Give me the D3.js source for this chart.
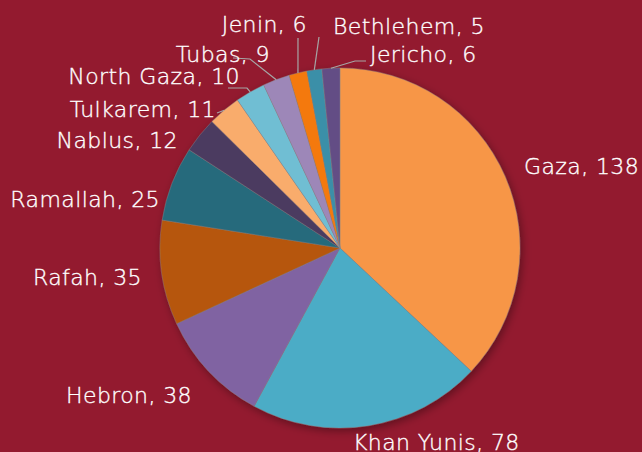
<!DOCTYPE html>
<html>
<head>
<meta charset="utf-8">
<script src="https://cdn.jsdelivr.net/npm/d3@7"></script>
<style>
  html, body { margin: 0; padding: 0; background: #931a2f; }
  svg { display: block; }
  text { font-family: "DejaVu Sans", sans-serif; fill: #fff; }
</style>
</head>
<body>
<div id="chart"></div>
<script>
// ---- data ----
const districts = ['Gaza', 'Khan Yunis', 'Hebron', 'Rafah', 'Ramallah', 'Nablus',
  'Tulkarem', 'North Gaza', 'Tubas', 'Jenin', 'Bethlehem', 'Jericho'];
const counts = [138, 78, 38, 35, 25, 12, 11, 10, 9, 6, 5, 6];
const colors = ['#f79646', '#4bacc6', '#8064a2', '#b65708', '#276a7c', '#4c3a60',
  '#f9ac6c', '#70bed3', '#9d87b8', '#f4790b', '#3a8fa8', '#634e85'];

// label placement (layout, set by hand like in the original)
const labelLayout = [
  { x: 524, y: 174, anchor: 'start' },
  { x: 353, y: 450, anchor: 'start' },
  { x: 192, y: 403, anchor: 'end' },
  { x: 142, y: 285, anchor: 'end' },
  { x: 160, y: 207, anchor: 'end' },
  { x: 178, y: 148, anchor: 'end' },
  { x: 216, y: 117, anchor: 'end', leader: [[217, 113]] },
  { x: 240, y: 84, anchor: 'end', leader: [[247, 88], [228, 88]] },
  { x: 270, y: 62, anchor: 'end', leader: [[250, 59], [233, 58]] },
  { x: 307, y: 32, anchor: 'end', leader: [[298, 38]] },
  { x: 333, y: 34, anchor: 'start', leader: [[319, 37]] },
  { x: 370, y: 62, anchor: 'start', leader: [[355, 61], [366, 61]] }
];

const width = 642, height = 452;
const cx = 340, cy = 248, radius = 180;

const svg = d3.select('#chart').append('svg')
  .attr('width', width).attr('height', height);

const defs = svg.append('defs');
const shadow = defs.append('filter').attr('id', 'shadow')
  .attr('x', '-20%').attr('y', '-20%').attr('width', '140%').attr('height', '140%');
shadow.append('feDropShadow')
  .attr('dx', 2).attr('dy', 3).attr('stdDeviation', 4)
  .attr('flood-color', '#000').attr('flood-opacity', 0.35);

const rows = districts.map((name, i) => ({ name, value: counts[i], color: colors[i], i }));

const pie = d3.pie().value(d => d.value).sort(null);
const arcs = pie(rows);
const arc = d3.arc().innerRadius(0).outerRadius(radius);

const g = svg.append('g').attr('transform', `translate(${cx},${cy})`);

g.append('g').attr('filter', 'url(#shadow)')
  .selectAll('path')
  .data(arcs)
  .join('path')
  .attr('d', arc)
  .attr('fill', d => d.data.color)
  .attr('stroke', '#8a8a8a')
  .attr('stroke-width', 0.4);

// leader lines from slice edge
const edge = d3.arc().innerRadius(radius).outerRadius(radius);
arcs.forEach((d, i) => {
  const lay = labelLayout[i];
  if (!lay.leader) return;
  const [ex, ey] = edge.centroid(d);
  const pts = [[cx + ex, cy + ey]].concat(lay.leader);
  svg.append('path')
    .attr('d', d3.line()(pts))
    .attr('fill', 'none')
    .attr('stroke', '#a6a6a6')
    .attr('stroke-width', 1.2);
});

svg.append('g')
  .selectAll('text')
  .data(arcs)
  .join('text')
  .attr('x', (d, i) => labelLayout[i].x)
  .attr('y', (d, i) => labelLayout[i].y)
  .attr('text-anchor', (d, i) => labelLayout[i].anchor)
  .attr('font-size', 22)
  .attr('font-weight', 300)
  .attr('letter-spacing', 0.4)
  .attr('stroke', '#fff')
  .attr('stroke-width', 0.35)
  .text(d => `${d.data.name}, ${d.data.value}`);
</script>
</body>
</html>
